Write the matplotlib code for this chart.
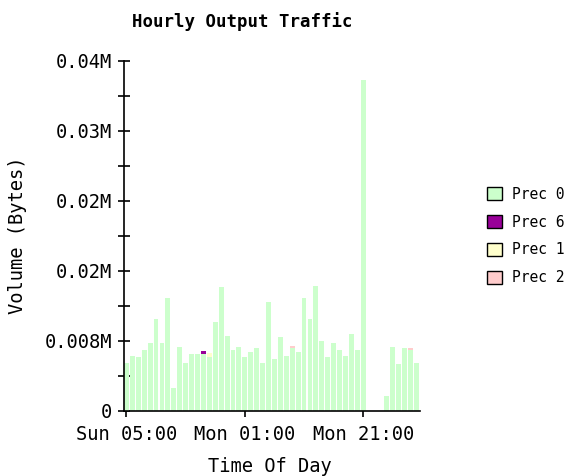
import matplotlib
matplotlib.use("Agg")
import matplotlib.pyplot as plt
import numpy as np
from matplotlib.patches import Patch

# Hourly values in M bytes, index 0 = Sun 05:00
prec0 = [0.00541, 0.00629, 0.00609, 0.00694, 0.00774, 0.01043, 0.00777, 0.01288,
         0.00259, 0.00731, 0.00549, 0.00648, 0.00648, 0.00648, 0.00609, 0.01017,
         0.01409, 0.00857, 0.00694, 0.00731, 0.00609, 0.00666, 0.00712, 0.00543,
         0.01246, 0.00591, 0.00838, 0.00629, 0.00717, 0.00666, 0.01288, 0.01048,
         0.01429, 0.00792, 0.00609, 0.00774, 0.00694, 0.00629, 0.00877, 0.00694,
         0.03779, 0.0, 0.0, 0.0, 0.00171, 0.00731, 0.00534, 0.00712, 0.00697, 0.00549]
prec6 = [0.0] * 50
prec6[13] = 0.00030
prec1 = [0.0] * 50
prec1[14] = 0.00045
prec2 = [0.0] * 50
prec2[28] = 0.00020
prec2[48] = 0.00018

series_names = ["Prec 0", "Prec 6", "Prec 1", "Prec 2"]
series_colors = ["#ccffcc", "#990099", "#ffffcc", "#ffcccc"]
x_tick_pos = [0, 20, 40]
x_tick_labels = ["Sun 05:00", "Mon 01:00", "Mon 21:00"]
y_ticks = [0, 0.008, 0.016, 0.024, 0.032, 0.04]
y_tick_labels = ["0", "0.008M", "0.02M", "0.02M", "0.03M", "0.04M"]

W, H = 579, 476
fig = plt.figure(figsize=(W / 100, H / 100), dpi=100)
ax = fig.add_axes([124 / W, 1 - 410.7 / H, (420 - 124) / W, (410.7 - 60.7) / H])

FONT = "DejaVu Sans Mono"
x = np.arange(len(prec0))
bottom = np.zeros(len(prec0))
for vals, col in zip([prec0, prec6, prec1, prec2], series_colors):
    v = np.array(vals)
    ax.bar(x, v, width=0.82, bottom=bottom, color=col, edgecolor="none", zorder=2)
    bottom += v

ax.set_xlim(-0.42, 49.6)
ax.set_ylim(0, 0.04)
ax.set_yticks(y_ticks)
ax.set_yticklabels(y_tick_labels, fontfamily=FONT, fontsize=13.5)
ax.set_yticks([0.004, 0.012, 0.020, 0.028, 0.036], minor=True)
ax.set_xticks(x_tick_pos)
ax.set_xticklabels(x_tick_labels, fontfamily=FONT, fontsize=13.5)
ax.tick_params(axis="y", which="both", direction="inout", length=8, width=1.2, pad=4.5)
ax.tick_params(axis="x", which="both", direction="inout", length=8, width=1.2, pad=6)
for s in ["top", "right"]:
    ax.spines[s].set_visible(False)
for s in ["left", "bottom"]:
    ax.spines[s].set_linewidth(1.2)
    ax.spines[s].set_color("black")
ax.set_facecolor("white")

fig.text(242 / W, 1 - 22 / H, "Hourly Output Traffic", ha="center", va="center",
         fontfamily=FONT, fontweight="bold", fontsize=12.5)
fig.text(18 / W, 1 - 235 / H, "Volume (Bytes)", ha="center", va="center",
         rotation=90, fontfamily=FONT, fontsize=13.5)
fig.text(270 / W, 1 - 466 / H, "Time Of Day", ha="center", va="center",
         fontfamily=FONT, fontsize=13.5)

handles = [Patch(facecolor=c, edgecolor="black", linewidth=1.0) for c in series_colors]
fig.legend(handles, series_names, loc="center left",
           bbox_to_anchor=(487 / W, 1 - 236 / H), frameon=False,
           prop={"family": FONT, "size": 10.5}, handlelength=1.0, handleheight=1.0,
           handletextpad=0.7, labelspacing=0.89, borderaxespad=0, borderpad=0)

fig.savefig("out.png", dpi=100)
